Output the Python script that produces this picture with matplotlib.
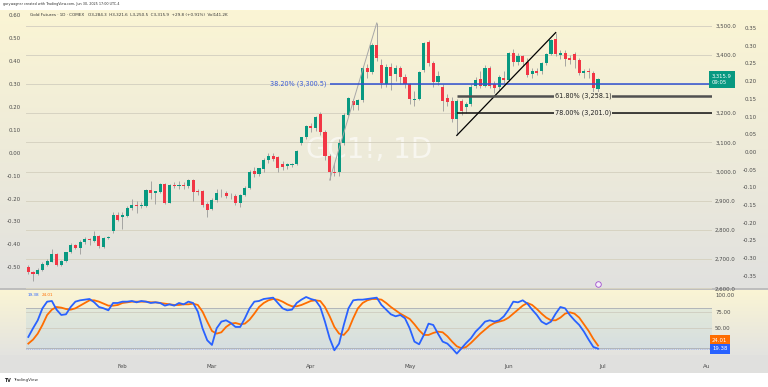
import matplotlib

matplotlib.use("Agg")
import matplotlib.pyplot as plt
from matplotlib.colors import to_rgb
from matplotlib.lines import Line2D
from matplotlib.patches import Rectangle
import numpy as np
import pandas as pd

# GC1! daily candles, 2025-01-03 .. 2025-06-30
opens = [
    2673, 2655, 2649, 2664, 2680, 2692, 2719, 2681, 2695, 2723,
    2748, 2740, 2760, 2769, 2762, 2780, 2743, 2773, 2797, 2852,
    2845, 2849, 2874, 2886, 2881, 2883, 2938, 2926, 2929, 2958,
    2894, 2955, 2950, 2955, 2951, 2970, 2935, 2932, 2890, 2872,
    2902, 2925, 2925, 2918, 2918, 2893, 2921, 2944, 3001, 2993,
    3009, 3041, 3053, 3050, 3026, 3020, 3023, 3026, 3098, 3118,
    3156, 3149, 3197, 3136, 3053, 3000, 2999, 3098, 3194, 3242,
    3228, 3246, 3355, 3340, 3434, 3365, 3300, 3358, 3334, 3355,
    3324, 3300, 3245, 3250, 3348, 3445, 3371, 3308, 3290, 3251,
    3243, 3180, 3242, 3220, 3231, 3294, 3317, 3294, 3354, 3300,
    3290, 3322, 3314, 3405, 3377, 3396, 3377, 3334, 3345, 3343,
    3373, 3403, 3455, 3400, 3405, 3388, 3402, 3383, 3337, 3345,
    3339, 3284.3,
]
highs = [
    2680, 2661, 2670, 2689, 2700, 2736, 2722, 2698, 2726, 2755,
    2752, 2765, 2776, 2774, 2797, 2784, 2775, 2780, 2860, 2862,
    2862, 2882, 2906, 2898, 2895, 2940, 2969, 2935, 2962, 2962,
    2958, 2966, 2968, 2965, 2975, 2975, 2940, 2938, 2895, 2910,
    2942, 2940, 2932, 2928, 2922, 2924, 2950, 3005, 3017, 3012,
    3045, 3062, 3065, 3055, 3035, 3030, 3030, 3075, 3120, 3160,
    3168, 3190, 3203, 3142, 3060, 3030, 3110, 3200, 3255, 3250,
    3250, 3360, 3370, 3440, 3509, 3385, 3370, 3372, 3365, 3360,
    3335, 3305, 3275, 3345, 3445, 3450, 3380, 3345, 3300, 3265,
    3255, 3250, 3250, 3240, 3300, 3325, 3345, 3365, 3360, 3310,
    3330, 3345, 3410, 3420, 3405, 3400, 3390, 3355, 3355, 3375,
    3405, 3455, 3476, 3415, 3415, 3400, 3410, 3390, 3350, 3355,
    3345, 3321.6,
]
lows = [
    2650, 2627, 2647, 2660, 2676, 2690, 2677, 2675, 2690, 2720,
    2735, 2717, 2752, 2747, 2760, 2737, 2740, 2768, 2790, 2830,
    2805, 2845, 2868, 2857, 2875, 2880, 2907, 2889, 2925, 2890,
    2891, 2943, 2940, 2940, 2945, 2898, 2920, 2880, 2846, 2868,
    2895, 2912, 2910, 2905, 2885, 2880, 2915, 2940, 2983, 2985,
    3000, 3030, 3035, 3000, 3005, 3010, 3015, 3022, 3090, 3110,
    3135, 3140, 3125, 3040, 2971, 2985, 2985, 3090, 3190, 3210,
    3210, 3240, 3320, 3335, 3380, 3285, 3290, 3280, 3310, 3300,
    3285, 3230, 3225, 3245, 3340, 3360, 3290, 3295, 3207, 3225,
    3170, 3124, 3195, 3200, 3225, 3285, 3285, 3290, 3285, 3270,
    3280, 3305, 3310, 3360, 3365, 3360, 3325, 3320, 3330, 3335,
    3365, 3400, 3395, 3385, 3360, 3370, 3355, 3330, 3320, 3320,
    3270, 3250.5,
]
closes = [
    2655, 2649, 2664, 2683, 2695, 2719, 2681, 2695, 2723, 2748,
    2740, 2760, 2770, 2764, 2780, 2744, 2772, 2775, 2852, 2833,
    2852, 2877, 2886, 2881, 2886, 2938, 2928, 2932, 2958, 2894,
    2955, 2949, 2955, 2950, 2970, 2930, 2930, 2886, 2868, 2904,
    2927, 2928, 2918, 2916, 2893, 2921, 2944, 3000, 2993, 3011,
    3041, 3054, 3043, 3011, 3017, 3026, 3024, 3071, 3118, 3156,
    3149, 3187, 3136, 3053, 2999, 2995, 3098, 3194, 3252, 3228,
    3246, 3355, 3341, 3434, 3390, 3303, 3358, 3327, 3355, 3324,
    3300, 3249, 3250, 3340, 3440, 3371, 3308, 3328, 3242, 3238,
    3180, 3242, 3206, 3231, 3291, 3314, 3294, 3356, 3294, 3286,
    3325, 3314, 3405, 3377, 3396, 3377, 3331, 3345, 3337, 3373,
    3403, 3451, 3403, 3405, 3386, 3383, 3383, 3337, 3345, 3340,
    3286, 3315.9,
]

# Stoch RSI (%K blue, %D orange)
stoch_k = [
    37, 50, 62, 80, 90, 91, 78, 70, 71, 82,
    90, 92, 93, 94, 89, 82, 80, 77, 88, 88,
    90, 90, 91, 89, 91, 90, 88, 89, 88, 84,
    86, 84, 88, 86, 90, 88, 75, 50, 32, 25,
    50, 60, 62, 58, 52, 52, 65, 80, 90, 91,
    94, 95, 96, 88, 80, 77, 78, 88, 93, 97,
    94, 92, 82, 60, 35, 17, 27, 55, 80, 92,
    93, 93, 94, 95, 96, 85, 78, 71, 68, 70,
    65, 50, 30, 26, 40, 57, 55, 42, 30, 27,
    20, 12, 20, 28, 35, 45, 52, 60, 62, 60,
    62, 68, 78, 90, 89, 92, 87, 78, 70, 60,
    56, 60, 72, 82, 80, 70, 62, 55, 45, 33,
    22, 19.38,
]
stoch_d = [
    27, 33, 42, 55, 70, 78, 82, 81, 79, 78,
    80, 84, 88, 92, 92, 90, 87, 84, 84, 85,
    88, 89, 90, 90, 90, 90, 89, 89, 88, 87,
    86, 85, 85, 86, 86, 87, 85, 75, 60, 46,
    42, 44, 52, 57, 58, 56, 57, 63, 72, 82,
    88, 92, 94, 93, 90, 86, 83, 83, 85, 88,
    91, 92, 91, 82, 68, 52, 42, 40, 48, 65,
    80, 88, 92, 94, 94, 93, 88, 82, 77, 72,
    68, 64, 56, 47, 40, 40, 43, 45, 44, 38,
    30, 23, 20, 22, 28, 35, 42, 48, 54, 58,
    60, 62, 66, 72, 78, 84, 88, 85, 79, 72,
    66, 62, 62, 66, 72, 74, 72, 66, 56, 46,
    34, 24.01,
]

holidays = ["2025-01-20", "2025-02-17", "2025-04-18", "2025-05-26", "2025-06-19", "2025-07-04"]
month_names = ["Feb", "Mar", "Apr", "May", "Jun", "Jul", "Au"]
price_ticks = [2600, 2700, 2800, 2900, 3000, 3100, 3200, 3300, 3400, 3500]
left_ticks = [-0.5, -0.4, -0.3, -0.2, -0.1, 0.0, 0.1, 0.2, 0.3, 0.4, 0.5, 0.6]
right_ticks = [-0.35, -0.3, -0.25, -0.2, -0.15, -0.1, -0.05, 0.0, 0.05, 0.1, 0.15, 0.2, 0.25, 0.3, 0.35]
stoch_ticks = [50, 75, 100]

# fib retracement anchors (bar index, price) and levels
fib1_x = [64, 74]
fib1_y = [2971.0, 3509.0]
fib2_x = [91, 112]
fib2_y = [3124.0, 3476.0]
fib_levels = [3300.5, 3258.1, 3201.0]
fib_labels = ["38.20% (3,300.5)", "61.80% (3,258.1)", "78.00% (3,201.0)"]

W, H = 768, 387
GREEN, RED = "#089981", "#f23645"
BLUE, ORANGE = "#2962ff", "#ff6d00"
TXT = "#4a4a4a"


def box(x0, y0, x1, y1):
    return [x0 / W, 1 - y1 / H, (x1 - x0) / W, (y1 - y0) / H]


def gradient(fig, rect, top, bottom):
    a = fig.add_axes(rect, zorder=0)
    t = np.linspace(0, 1, 256)[:, None, None]
    c0, c1 = np.array(to_rgb(top)), np.array(to_rgb(bottom))
    a.imshow(c0 + (c1 - c0) * t, aspect="auto", extent=[0, 1, 0, 1])
    a.axis("off")
    return a


def hide_spines(a):
    for s in a.spines.values():
        s.set_visible(False)


fig = plt.figure(figsize=(W / 100, H / 100), dpi=100)
fig.patch.set_facecolor("white")

gradient(fig, box(0, 10, W, 289), "#fbf5d4", "#e1e1df")
gradient(fig, box(0, 289, W, 355), "#fbf5d4", "#e3e3e0")
fig.add_artist(Rectangle((0, 1 - 373 / H), 1, 18 / H, transform=fig.transFigure,
                         fc="#e0e0de", ec="none", zorder=0))
fig.add_artist(Line2D([0, 1], [1 - 289 / H] * 2, color="#bdbdbd", lw=1.4, zorder=3))

df = pd.DataFrame({"open": opens, "high": highs, "low": lows, "close": closes})
days = pd.bdate_range("2025-01-03", "2025-08-29")
days = days[~days.isin(pd.to_datetime(holidays))]
df["date"] = days[: len(df)]
x = np.arange(len(df))
x_min, x_max = -0.49, 145.2

# ---- main price pane
ax = fig.add_axes(box(26, 10, 712, 289), zorder=2)
ax.set_facecolor("none")
ax.set_xlim(x_min, x_max)
ax.set_ylim(2597.9, 3553.4)

# extra indicator scales (left and inner right) - twinx resets ax ticks, so do these first
axL = ax.twinx()
axL.set_ylim(-0.595, 0.623)
axL.yaxis.tick_left()
axL.set_yticks(left_ticks)
axL.set_yticklabels([f"{v:.2f}" for v in left_ticks])
axL.tick_params(axis="y", length=0, pad=3.6, labelsize=3.9, labelcolor=TXT)

axR = ax.twinx()
axR.set_ylim(-0.387, 0.401)
axR.yaxis.tick_right()
axR.set_yticks(right_ticks)
axR.set_yticklabels([f"{v:.2f}" for v in right_ticks], ha="right")
axR.tick_params(axis="y", length=0, pad=32.4, labelsize=3.9, labelcolor=TXT)
hide_spines(axL)
hide_spines(axR)

ax.set_zorder(3)
ax.set_facecolor("none")
ax.yaxis.tick_right()
ax.set_yticks(price_ticks)
# the 3,300.0 label sits under the last-price tag
ax.set_yticklabels(["" if p == 3300 else f"{p:,.1f}" for p in price_ticks])
ax.tick_params(axis="y", length=0, pad=2.2, labelsize=3.9, labelcolor=TXT,
               left=False, labelleft=False, right=True, labelright=True)
ax.set_xticks([])
ax.grid(axis="y", color="#d7d3c2", lw=0.7)
hide_spines(ax)

up = df["close"] >= df["open"]
colors = np.where(up, GREEN, RED)
ax.vlines(x, df["low"], df["high"], color="#9a9a9a", lw=0.6, zorder=3)
body_low = np.minimum(df["open"], df["close"])
body_h = np.maximum((df["close"] - df["open"]).abs(), 1.8)
ax.bar(x, body_h, bottom=body_low, width=0.66, color=colors, lw=0, zorder=4)

# fib 1 (Apr low -> Apr high)
ax.plot(fib1_x, fib1_y, color="#a8a8a8", lw=0.7, zorder=5)
ax.hlines(fib_levels[0], fib1_x[0], x_max, color="#3050d0", lw=1.1, zorder=5)
ax.text(fib1_x[0] - 0.8, fib_levels[0], fib_labels[0], ha="right", va="center",
        fontsize=4.7, color="#3a5bd6", zorder=6)

# fib 2 (May low -> Jun high)
ax.plot(fib2_x, fib2_y, color="black", lw=0.9, zorder=5)
ax.hlines(fib_levels[1], fib2_x[0], x_max, color="#505050", lw=1.8, zorder=5)
ax.hlines(fib_levels[2], fib2_x[0], x_max, color="#111111", lw=1.1, zorder=5)
for lvl, lab, fc in zip(fib_levels[1:], fib_labels[1:], ["#f3efd8", "#f1eddb"]):
    ax.text(117.8, lvl, lab, ha="center", va="center", fontsize=4.7, color="#222222",
            zorder=6, bbox=dict(boxstyle="square,pad=0.15", fc=fc, ec="none"))

last = df["close"].iloc[-1]
ax.text(1.0, last, f"{last:,.1f}\n09:05", transform=ax.get_yaxis_transform(),
        ha="left", va="center", fontsize=3.8, color="white", linespacing=1.1, zorder=8,
        bbox=dict(boxstyle="square,pad=0.6", fc=GREEN, ec="none"), clip_on=False)
ax.plot(x[-1], 2615, "o", ms=4, mfc="#f6effa", mec="#a04cd0", mew=0.6, clip_on=False, zorder=6)

fig.text(369 / W, 1 - 150 / H, "GC1!, 1D", fontsize=20, color="white", alpha=0.6,
         ha="center", va="center", zorder=1)

# ---- stoch RSI pane
axS = fig.add_axes(box(26, 289, 712, 355), zorder=2)
axS.set_facecolor("none")
axS.set_xlim(x_min, x_max)
axS.set_ylim(9.9, 109)
axS.axhspan(20, 80, fc="#2196f3", alpha=0.08, lw=0)
for v in (80, 20):
    axS.axhline(v, color="#a9adb3", lw=0.6)
for v in (75, 50):
    axS.axhline(v, color="#cfccbf", lw=0.6)
axS.plot(x, stoch_d, color=ORANGE, lw=1.3)
axS.plot(x, stoch_k, color=BLUE, lw=1.3)
axS.axhline(stoch_k[-1], color=BLUE, ls=":", lw=0.5, alpha=0.6)

axS.set_yticks(stoch_ticks)
axS.set_yticklabels([f"{v:.2f}" for v in stoch_ticks])
axS.yaxis.tick_right()
axS.tick_params(axis="y", length=0, pad=2.2, labelsize=3.9, labelcolor=TXT)

first_of_month = [days.get_loc(days[days.month == m][0]) for m in range(2, 9)]
axS.set_xticks(first_of_month)
axS.set_xticklabels(month_names)
axS.tick_params(axis="x", length=0, pad=6.5, labelsize=4.0, labelcolor=TXT)
hide_spines(axS)

axS.text(1.0, stoch_k[-1] + 12.5, f"{stoch_d[-1]:.2f}", transform=axS.get_yaxis_transform(),
         ha="left", va="center", fontsize=3.9, color="white", clip_on=False,
         bbox=dict(boxstyle="square,pad=0.45", fc=ORANGE, ec="none"))
axS.text(1.0, stoch_k[-1], f"{stoch_k[-1]:.2f}", transform=axS.get_yaxis_transform(),
         ha="left", va="center", fontsize=3.9, color="white", clip_on=False,
         bbox=dict(boxstyle="square,pad=0.45", fc=BLUE, ec="none"))

fig.text(28 / W, 1 - 295 / H, f"{stoch_k[-1]:.2f}", fontsize=3.0, color=BLUE, va="center")
fig.text(42 / W, 1 - 295 / H, f"{stoch_d[-1]:.2f}", fontsize=3.0, color=ORANGE, va="center")

# ---- header / footer text
fig.text(3 / W, 1 - 4.5 / H, "garywagner created with TradingView.com, Jun 30, 2025 17:00 UTC-4",
         fontsize=2.4, color="#333333", va="center")
fig.text(30 / W, 1 - 14.5 / H,
         "Gold Futures · 1D · COMEX   O3,284.3  H3,321.6  L3,250.5  C3,315.9  +29.8 (+0.91%)  Vol141.2K",
         fontsize=3.0, color="#333333", va="center", zorder=5)
fig.text(4 / W, 1 - 380 / H, "TV", fontsize=3.4, fontweight="bold", color="#222222", va="center")
fig.text(13 / W, 1 - 380 / H, "TradingView", fontsize=3.0, color="#333333", va="center")

fig.savefig("out.png", dpi=100)
